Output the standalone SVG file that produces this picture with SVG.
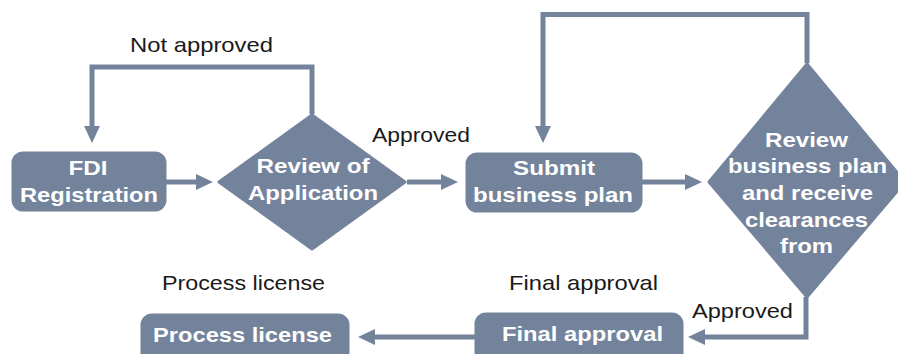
<svg xmlns="http://www.w3.org/2000/svg" width="898" height="354" viewBox="0 0 898 354">
  <style>
    .shape { fill: #74839c; stroke: #74839c; stroke-width: 3; stroke-linejoin: round; }
    .wire { fill: none; stroke: #74839c; stroke-width: 5; }
    .in { font-family: "Liberation Sans", Arial, sans-serif; font-weight: bold; font-size: 21px; fill: #ffffff; text-anchor: middle; }
    .lbl { font-family: "Liberation Sans", Arial, sans-serif; font-size: 21px; fill: #1a1a1a; text-anchor: middle; }
  </style>
  <defs>
    <marker id="arrow" markerUnits="userSpaceOnUse" markerWidth="17" markerHeight="17" refX="2" refY="8" orient="auto">
      <path d="M0,0 L17,8 L0,16 z" fill="#74839c"/>
    </marker>
  </defs>

  <rect width="898" height="354" fill="#ffffff"/>

  <!-- connectors -->
  <g id="connectors">
    <path class="wire" d="M166,182 H198" marker-end="url(#arrow)"/>
    <path class="wire" d="M312,114 V67 H92 V128" marker-end="url(#arrow)"/>
    <path class="wire" d="M407,182 H443" marker-end="url(#arrow)"/>
    <path class="wire" d="M642,182 H687" marker-end="url(#arrow)"/>
    <path class="wire" d="M807,63 V14.5 H543 V128" marker-end="url(#arrow)"/>
    <path class="wire" d="M806,297 V337 H703" marker-end="url(#arrow)"/>
    <path class="wire" d="M476,337 H373" marker-end="url(#arrow)"/>
  </g>

  <!-- edge labels -->
  <g id="labels">
    <text class="lbl" x="201.5" y="52" textLength="143" lengthAdjust="spacingAndGlyphs">Not approved</text>
    <text class="lbl" x="421" y="142" textLength="98" lengthAdjust="spacingAndGlyphs">Approved</text>
    <text class="lbl" x="243.5" y="290" textLength="163" lengthAdjust="spacingAndGlyphs">Process license</text>
    <text class="lbl" x="583.5" y="290" textLength="149" lengthAdjust="spacingAndGlyphs">Final approval</text>
    <text class="lbl" x="742.5" y="318" textLength="101" lengthAdjust="spacingAndGlyphs">Approved</text>
  </g>

  <g id="fdi-registration">
    <rect class="shape" x="13" y="153" width="152" height="57" rx="10"/>
    <text class="in" x="88" y="175" textLength="39" lengthAdjust="spacingAndGlyphs">FDI</text>
    <text class="in" x="89" y="202" textLength="138" lengthAdjust="spacingAndGlyphs">Registration</text>
  </g>

  <g id="review-application">
    <polygon class="shape" points="219,182 312,115 405,182 312,249"/>
    <text class="in" x="313" y="173" textLength="113" lengthAdjust="spacingAndGlyphs">Review of</text>
    <text class="in" x="313" y="200" textLength="130" lengthAdjust="spacingAndGlyphs">Application</text>
  </g>

  <g id="submit-plan">
    <rect class="shape" x="467" y="154" width="174" height="57" rx="10"/>
    <text class="in" x="554" y="175" textLength="82" lengthAdjust="spacingAndGlyphs">Submit</text>
    <text class="in" x="553" y="202" textLength="160" lengthAdjust="spacingAndGlyphs">business plan</text>
  </g>

  <g id="review-clearances">
    <polygon class="shape" points="709,182 807,64 905,182 807,297"/>
    <text class="in" x="806.5" y="147" textLength="83" lengthAdjust="spacingAndGlyphs">Review</text>
    <text class="in" x="807.5" y="173" textLength="159" lengthAdjust="spacingAndGlyphs">business plan</text>
    <text class="in" x="807.5" y="200" textLength="131" lengthAdjust="spacingAndGlyphs">and receive</text>
    <text class="in" x="806.5" y="227" textLength="123" lengthAdjust="spacingAndGlyphs">clearances</text>
    <text class="in" x="806.5" y="253" textLength="53" lengthAdjust="spacingAndGlyphs">from</text>
  </g>

  <g id="final-approval">
    <rect class="shape" x="476" y="314" width="206" height="60" rx="10"/>
    <text class="in" x="582.5" y="341" textLength="161" lengthAdjust="spacingAndGlyphs">Final approval</text>
  </g>

  <g id="process-license">
    <rect class="shape" x="142" y="315" width="206" height="60" rx="10"/>
    <text class="in" x="242.5" y="342" textLength="179" lengthAdjust="spacingAndGlyphs">Process license</text>
  </g>
</svg>
